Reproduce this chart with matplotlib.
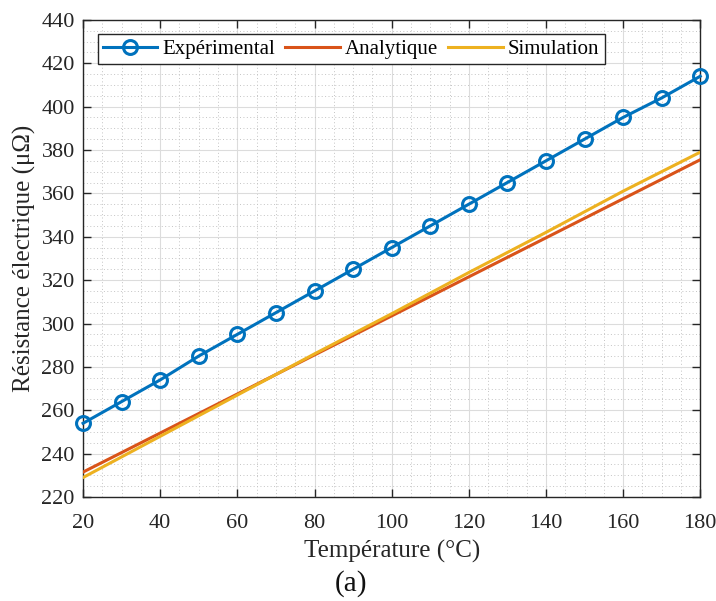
import matplotlib.pyplot as plt
import numpy as np
from matplotlib.ticker import MultipleLocator, AutoMinorLocator

# data
temp_exp = [20, 30, 40, 50, 60, 70, 80, 90, 100, 110, 120, 130, 140, 150, 160, 170, 180]
r_exp = [254, 264, 274, 285, 295, 305, 315, 325, 335, 345, 355, 365, 375, 385, 395, 404, 414]

temp_model = [20, 40, 60, 80, 100, 120, 140, 160, 180]
r_analytique = [231.5, 249.5, 267.5, 285.5, 303.5, 321.5, 339.5, 357.5, 375.5]
r_simulation = [229, 248, 267, 286, 304.5, 323.5, 342, 361, 379]

plt.rcParams['font.family'] = ['Liberation Serif', 'DejaVu Serif']
plt.rcParams['mathtext.fontset'] = 'stix'

fig = plt.figure(figsize=(7.16, 6.01), dpi=100)
ax = fig.add_axes([0.116, 0.173, 0.862, 0.794])

ax.plot(temp_exp, r_exp, color='#0072BD', linewidth=2.2, marker='o', markersize=10,
        markerfacecolor='none', markeredgewidth=2.2, label='Expérimental', zorder=4,
        clip_on=False)
ax.plot(temp_model, r_analytique, color='#D95319', linewidth=2.2, label='Analytique', zorder=3)
ax.plot(temp_model, r_simulation, color='#EDB120', linewidth=2.2, label='Simulation', zorder=3)

ax.set_xlim(20, 180)
ax.set_ylim(220, 440)
ax.xaxis.set_major_locator(MultipleLocator(20))
ax.yaxis.set_major_locator(MultipleLocator(20))
ax.xaxis.set_minor_locator(AutoMinorLocator(4))
ax.yaxis.set_minor_locator(AutoMinorLocator(4))

ax.grid(True, which='major', color='#dcdcdc', linewidth=0.8, linestyle='-')
ax.grid(True, which='minor', color='#c4c4c4', linewidth=0.7, linestyle=(0, (1, 2.5)))
ax.set_axisbelow(True)

ax.tick_params(which='major', direction='in', top=True, right=True, length=6,
               width=1, labelsize=16, colors='#262626')
ax.tick_params(axis='x', which='major', pad=12)
ax.tick_params(axis='y', which='major', pad=6)
ax.tick_params(which='minor', length=0, top=True, right=True)
for s in ax.spines.values():
    s.set_color('#262626')
    s.set_linewidth(1)

ax.set_xlabel('Température (°C)', fontsize=18, color='#262626', labelpad=5)
ax.set_ylabel('Résistance électrique (μΩ)', fontsize=18, color='#262626', labelpad=4)

leg = ax.legend(loc='upper left', ncol=3, fontsize=15, frameon=True, fancybox=False,
                edgecolor='#262626', framealpha=1, borderaxespad=0.7,
                handlelength=2.6, columnspacing=0.5, handletextpad=0.25,
                borderpad=0.25)
leg.get_frame().set_linewidth(1)

fig.text(0.49, 0.018, '(a)', fontsize=21, ha='center', color='#111111')

fig.savefig('out.png', dpi=100)
